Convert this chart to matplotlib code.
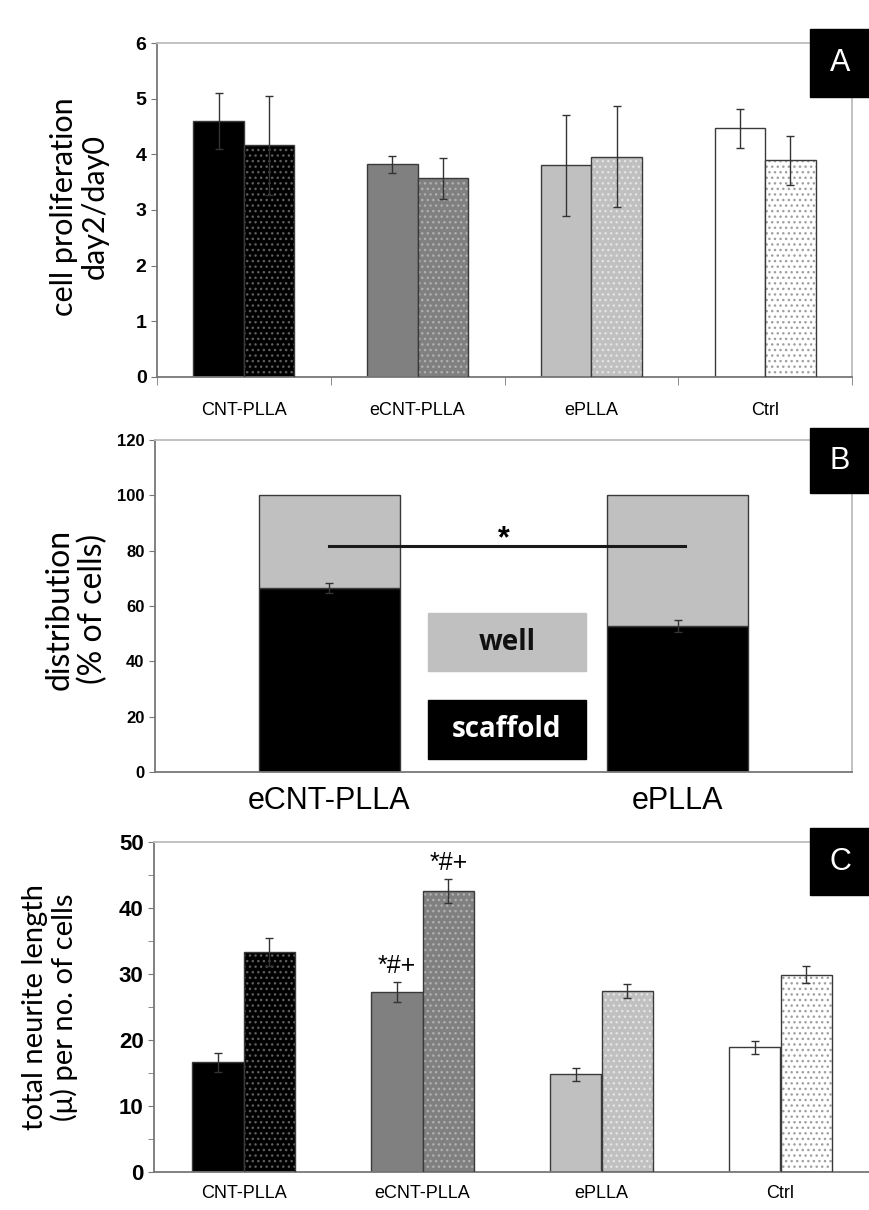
import matplotlib
matplotlib.use("Agg")
import matplotlib.pyplot as plt
from matplotlib.patches import Rectangle
import numpy as np

# ---- data ----
groups = ["CNT-PLLA", "eCNT-PLLA", "ePLLA", "Ctrl"]
fills = ["#000000", "#808080", "#c0c0c0", "#ffffff"]
dots = ["#5e5e5e", "#b0b0b0", "#e4e4e4", "#a0a0a0"]

# panel A: cell proliferation day2/day0
prolif_solid = [4.60, 3.82, 3.80, 4.47]
prolif_solid_err = [0.50, 0.15, 0.90, 0.35]
prolif_dot = [4.16, 3.57, 3.96, 3.89]
prolif_dot_err = [0.89, 0.37, 0.91, 0.44]

# panel B: distribution
dist_groups = ["eCNT-PLLA", "ePLLA"]
scaffold = [66.4, 52.8]
scaffold_err = [1.8, 2.2]
well = [33.6, 47.2]

# panel C: total neurite length per no. of cells
neur_solid = [16.6, 27.3, 14.8, 18.9]
neur_solid_err = [1.5, 1.5, 1.0, 1.0]
neur_dot = [33.3, 42.6, 27.4, 29.9]
neur_dot_err = [2.1, 1.8, 1.1, 1.3]

NARROW = ["Liberation Sans", "DejaVu Sans"]
HUMAN = ["Lato", "DejaVu Sans"]
EDGE = "#3a3a3a"
W = 0.29

fig = plt.figure(figsize=(8.69, 12.10), dpi=100)


def frame(ax):
    ax.spines["left"].set_color("#777777")
    ax.spines["bottom"].set_color("#777777")
    ax.spines["top"].set_color("#bdbdbd")
    ax.spines["right"].set_color("#bdbdbd")
    for s in ax.spines.values():
        s.set_linewidth(1.3)


def paired_bars(ax, solid, solid_err, dot, dot_err, pad):
    x = np.arange(len(groups))
    ax.bar(x - W / 2, solid, W, color=fills, edgecolor=EDGE, linewidth=1, zorder=2)
    ax.bar(x + W / 2, dot, W, color=fills, edgecolor=dots, hatch="...",
           linewidth=0, zorder=2)
    ax.bar(x + W / 2, dot, W, fill=False, edgecolor=EDGE, linewidth=1, zorder=3)
    ax.errorbar(x - W / 2, solid, yerr=solid_err, fmt="none", ecolor="#333333",
                elinewidth=1, capsize=3, capthick=1, zorder=4)
    ax.errorbar(x + W / 2, dot, yerr=dot_err, fmt="none", ecolor="#333333",
                elinewidth=1, capsize=3, capthick=1, zorder=4)
    ax.set_xlim(-0.5, len(groups) - 0.5)
    ax.set_xticks(x)
    ax.set_xticklabels(groups, family=NARROW, fontsize=13)
    ax.tick_params(axis="x", length=0, pad=pad)


def tick_font(ax, size):
    for lab in ax.get_yticklabels():
        lab.set_family(NARROW)
        lab.set_fontweight("bold")
        lab.set_fontsize(size)


def ylab(ax, text, size, x, y):
    ax.set_ylabel(text, family=HUMAN, fontsize=size, linespacing=1.1,
                  va="center")
    ax.yaxis.set_label_coords(x, y)


def letter(y0, y1, txt):
    fig.add_artist(Rectangle((810 / 869, 1 - y1 / 1210), 59 / 869, (y1 - y0) / 1210,
                             transform=fig.transFigure, color="black", zorder=10))
    fig.text(840 / 869, 1 - (y0 + y1) / 2 / 1210, txt, color="white", fontsize=22,
             family=NARROW, ha="center", va="center", zorder=11)


# ---- panel A ----
axA = fig.add_axes([157 / 869, 1 - 377 / 1210, 695 / 869, 334 / 1210])
paired_bars(axA, prolif_solid, prolif_solid_err, prolif_dot, prolif_dot_err, 18)
axA.set_ylim(0, 6)
axA.set_yticks(range(0, 7))
axA.set_xticks(np.arange(len(groups) + 1) - 0.5, minor=True)
axA.tick_params(axis="x", which="minor", length=6, direction="out", color="#777777")
axA.tick_params(axis="y", length=4, color="#777777")
tick_font(axA, 14)
frame(axA)
ylab(axA, "cell proliferation\nday2/day0", 22, -0.112, 0.51)

# ---- panel B ----
axB = fig.add_axes([155 / 869, 1 - 772 / 1210, 697 / 869, 332 / 1210])
xb = np.arange(len(dist_groups))
axB.bar(xb, scaffold, 0.405, color="black", edgecolor=EDGE, linewidth=1, zorder=2)
axB.bar(xb, well, 0.405, bottom=scaffold, color="#c0c0c0", edgecolor=EDGE,
        linewidth=1, zorder=2)
axB.errorbar(xb, scaffold, yerr=scaffold_err, fmt="none", ecolor="#333333",
             elinewidth=1, capsize=3, capthick=1, zorder=4)
axB.plot([xb[0], xb[1] + 0.02], [81.7, 81.7], color="#1a1a1a", lw=2.2, zorder=5)
axB.text(0.5, 84.0, "*", ha="center", va="center", fontsize=22, fontweight="bold",
         family=NARROW, zorder=5)
axB.set_xlim(-0.5, 1.5)
axB.set_ylim(0, 120)
axB.set_yticks(range(0, 121, 20))
axB.set_xticks(xb)
axB.set_xticklabels(dist_groups, family=NARROW, fontsize=22)
axB.tick_params(axis="x", length=0, pad=10)
axB.tick_params(axis="y", length=4, color="#777777")
tick_font(axB, 12)
frame(axB)
ylab(axB, "distribution\n(% of cells)", 23, -0.113, 0.49)
axB.add_patch(Rectangle((0.392, 0.304), 0.226, 0.175, transform=axB.transAxes,
                        color="#c0c0c0", zorder=3))
axB.add_patch(Rectangle((0.392, 0.039), 0.226, 0.178, transform=axB.transAxes,
                        color="black", zorder=3))
axB.text(0.505, 0.39, "well", transform=axB.transAxes, ha="center", va="center",
         fontsize=20, fontweight="bold", family=["Open Sans", "DejaVu Sans"],
         color="#111111", zorder=4)
axB.text(0.505, 0.128, "scaffold", transform=axB.transAxes, ha="center",
         va="center", fontsize=20, fontweight="bold",
         family=["Open Sans", "DejaVu Sans"], color="white", zorder=4)

# ---- panel C ----
axC = fig.add_axes([154 / 869, 1 - 1172 / 1210, 716 / 869, 330 / 1210])
paired_bars(axC, neur_solid, neur_solid_err, neur_dot, neur_dot_err, 9)
axC.set_ylim(0, 50)
axC.set_yticks(range(0, 51, 10))
axC.set_yticks(range(5, 50, 10), minor=True)
axC.tick_params(axis="y", which="both", length=4, color="#777777")
tick_font(axC, 16)
frame(axC)
ylab(axC, "total neurite length\n(\u03bc) per no. of cells", 21, -0.145, 0.50)
for xi, yi, ei in [(1 - W / 2, neur_solid[1], neur_solid_err[1]),
                   (1 + W / 2, neur_dot[1], neur_dot_err[1])]:
    axC.text(xi, yi + ei + 0.6, "*#+", ha="center", va="bottom", fontsize=18,
             family=NARROW)

letter(29, 97, "A")
letter(428, 493, "B")
letter(828, 895, "C")

fig.savefig("out.png", dpi=100, facecolor="white")
